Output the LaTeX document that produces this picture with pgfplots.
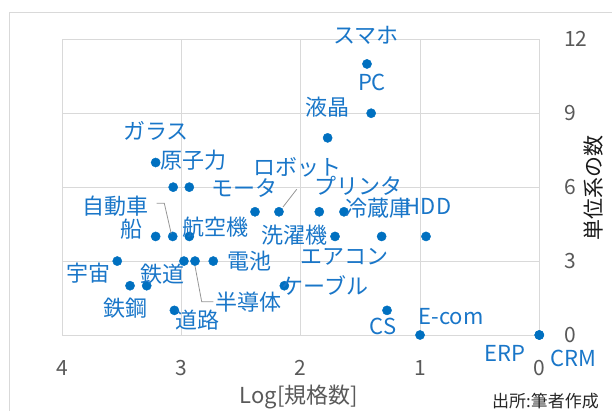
\documentclass[border=0pt]{standalone}
\usepackage{fontspec}
\setmainfont{Noto Sans CJK JP}
\usepackage{pgfplots}
\pgfplotsset{compat=1.18}
\definecolor{ptblue}{RGB}{0,112,192}
\definecolor{lblblue}{RGB}{25,118,200}
\definecolor{gridgray}{RGB}{217,217,217}
\definecolor{tickgray}{RGB}{89,89,89}
\definecolor{leadgray}{RGB}{150,150,150}
\pgfplotstableread{
x y
1.445 11
1.41 9
1.775 8
3.217 7
3.07 6
2.935 6
2.384 5
2.183 5
1.845 5
1.638 5
3.217 4
3.074 4
2.935 4
1.713 4
1.322 4
0.950 4
3.539 3
2.98 3
2.887 3
2.734 3
3.432 2
3.292 2
2.138 2
3.06 1
1.277 1
1.0 0
0 0
0 0
}\datatable
\begin{document}
\begin{tikzpicture}
\useasboundingbox (0,0) rectangle (612pt,410pt);
\draw[gridgray, line width=0.8pt] (9pt,-5pt) -- (9pt,398pt) -- (620pt,398pt);
\begin{axis}[
  at={(62.3pt,75pt)}, anchor=south west,
  scale only axis, width=477pt, height=295.7pt,
  x dir=reverse, xmin=0, xmax=4, ymin=0, ymax=12,
  xtick={0,1,2,3,4}, ytick={0,3,6,9,12},
  yticklabel pos=right,
  major tick length=0pt,
  grid=major, grid style={gridgray, line width=0.8pt},
  axis line style={gridgray, line width=0.8pt},
  ticklabel style={font=\fontsize{21}{24}\selectfont, text=tickgray, inner sep=0pt},
  /pgf/number format/assume math mode=true,
  xticklabel style={anchor=center, yshift=-33pt},
  yticklabel style={anchor=west, xshift=24.7pt},
  clip=false,
]
\addplot[only marks, mark=*, mark size=4.6pt, draw=ptblue, fill=ptblue] table[x=x,y=y] {\datatable};
\end{axis}
\begin{scope}[x=1pt, y=-1pt, yshift=410pt,
  lbl/.style={text=lblblue, inner sep=0pt, font=\fontsize{22}{24}\selectfont}]
\draw[leadgray, line width=0.8pt] (156.7,203.3) -- (164.3,203.3) -- (171.2,233.5);
\draw[leadgray, line width=0.8pt] (195,266) -- (201.7,301.7) -- (213.3,301.7);
\draw[leadgray, line width=0.8pt] (296.7,189.3) -- (283,207);
\node[lbl] at (366,35) {スマホ};
\node[lbl] at (372,82) {PC};
\node[lbl] at (327,107) {液晶};
\node[lbl] at (156,131) {ガラス};
\node[lbl] at (193,160) {原子力};
\node[lbl] at (297,167) {ロボット};
\node[lbl] at (244,188) {モータ};
\node[lbl] at (358,186) {プリンタ};
\node[lbl] at (428,206) {HDD};
\node[lbl] at (378,208) {冷蔵庫};
\node[lbl] at (294,235) {洗濯機};
\node[lbl] at (344,257) {エアコン};
\node[lbl] at (249,261) {電池};
\node[lbl] at (115,206) {自動車};
\node[lbl] at (131,229) {船};
\node[lbl] at (215,227) {航空機};
\node[lbl] at (88,273) {宇宙};
\node[lbl] at (162,274) {鉄道};
\node[lbl] at (125,308) {鉄鋼};
\node[lbl] at (197.5,320) {道路};
\node[lbl] at (248,302) {半導体};
\node[lbl] at (325,285) {ケーブル};
\node[lbl] at (383,326) {CS};
\node[lbl] at (451,317) {E-com};
\node[lbl] at (505,353) {ERP};
\node[lbl] at (573,358) {CRM};
\node[text=tickgray, inner sep=0pt, font=\fontsize{22}{24}\selectfont] at (299,397) {Log[規格数]};
\node[text=black!90, inner sep=0pt, font=\fontsize{21}{24}\selectfont, rotate=90] at (593.5,187.5) {単位系の数};
\node[text=black!85, inner sep=0pt, font=\fontsize{17}{20}\selectfont] at (545.5,401) {出所:筆者作成};
\end{scope}
\end{tikzpicture}
\end{document}
